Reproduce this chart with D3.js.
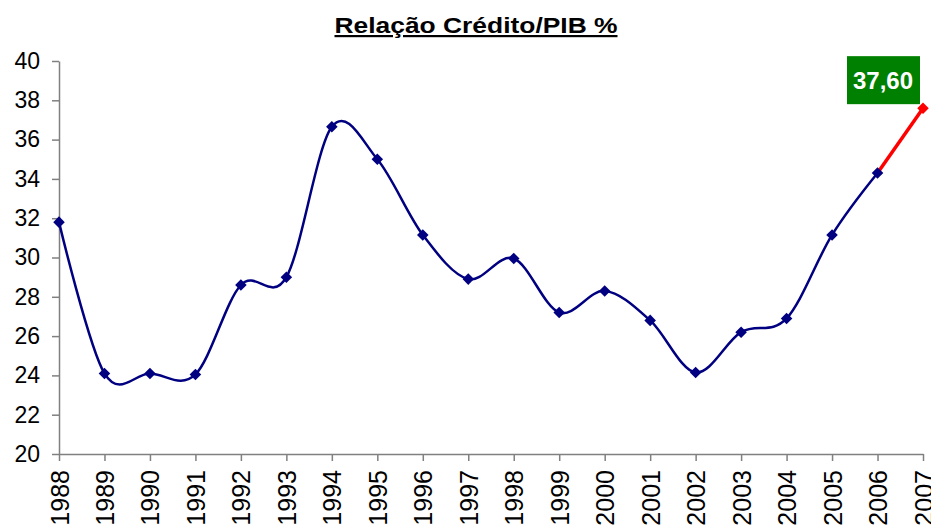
<!DOCTYPE html>
<html>
<head>
<meta charset="utf-8">
<script src="https://cdn.jsdelivr.net/npm/d3@7"></script>
<style>
  body { margin: 0; background: #fff; }
  svg { display: block; font-family: Arial, "Liberation Sans", sans-serif; }
</style>
</head>
<body>
<svg id="chart" width="931" height="528"></svg>
<script>
// dados
const years = ["1988", "1989", "1990", "1991", "1992", "1993", "1994", "1995", "1996", "1997",
               "1998", "1999", "2000", "2001", "2002", "2003", "2004", "2005", "2006", "2007"];
const creditoPib = [31.8, 24.1, 24.1, 24.05, 28.6, 29.0, 36.65, 35.0, 31.15, 28.9,
                    29.95, 27.2, 28.3, 26.8, 24.15, 26.2, 26.9, 31.15, 34.3, 37.6];
const yTicks = [20, 22, 24, 26, 28, 30, 32, 34, 36, 38, 40];
const titulo = "Relação Crédito/PIB %";

const svg = d3.select("#chart");

//Marge
const margin = { top: 61, left: 59, right: 8, bottom: 74 };
const width = 931, height = 528;

const scaleX = d3.scalePoint()
    .domain(years)
    .range([margin.left, width - margin.right]);

const scaleY = d3.scaleLinear()
    .domain([20, 40])
    .range([height - margin.bottom, margin.top]);

//Titre
svg.append("text")
    .attr("x", 476)
    .attr("y", 33)
    .attr("text-anchor", "middle")
    .attr("font-size", 22)
    .attr("font-weight", "bold")
    .attr("textLength", 283)
    .attr("lengthAdjust", "spacingAndGlyphs")
    .style("text-decoration", "underline")
    .text(titulo);

//Axe Y
const yAxis = svg.append("g")
    .attr("transform", `translate(${margin.left},0)`)
    .call(d3.axisLeft(scaleY).tickValues(yTicks).tickSize(7).tickPadding(12).tickSizeOuter(0));
yAxis.select(".domain").attr("stroke", "#808080").attr("stroke-width", 1.5);
yAxis.selectAll(".tick line").attr("stroke", "#808080").attr("stroke-width", 1.5);
yAxis.selectAll(".tick text")
    .attr("font-size", 23)
    .attr("fill", "#000")
    .attr("font-family", "Arial, 'Liberation Sans', sans-serif");

//Axe X
const xAxis = svg.append("g")
    .attr("transform", `translate(0,${scaleY(20)})`)
    .call(d3.axisBottom(scaleX).tickSize(7).tickSizeOuter(0));
xAxis.select(".domain").attr("stroke", "#808080").attr("stroke-width", 1.5);
xAxis.selectAll(".tick line").attr("stroke", "#808080").attr("stroke-width", 1.5);
xAxis.selectAll(".tick text")
    .attr("font-size", 25)
    .attr("fill", "#000")
    .attr("font-family", "Arial, 'Liberation Sans', sans-serif")
    .attr("text-anchor", "end")
    .attr("transform", "rotate(-90)")
    .attr("x", -16)
    .attr("y", 0)
    .attr("dy", "0.36em");

// série principal (até 2006), suavizada
const mainData = years.slice(0, 19).map((y, i) => ({ year: y, v: creditoPib[i] }));
const lastData = years.slice(18).map((y, i) => ({ year: y, v: creditoPib[18 + i] }));

const smoothLine = d3.line()
    .curve(d3.curveCatmullRom.alpha(0))
    .x(d => scaleX(d.year))
    .y(d => scaleY(d.v));

const straightLine = d3.line()
    .x(d => scaleX(d.year))
    .y(d => scaleY(d.v));

svg.append("path")
    .datum(mainData)
    .attr("fill", "none")
    .attr("stroke", "#000080")
    .attr("stroke-width", 2.5)
    .attr("d", smoothLine);

svg.append("path")
    .datum(lastData)
    .attr("fill", "none")
    .attr("stroke", "#ff0000")
    .attr("stroke-width", 3.5)
    .attr("d", straightLine);

const diamond = d3.symbol().type(d3.symbolDiamond2).size(85);

svg.selectAll(".marker")
    .data(mainData)
    .enter()
    .append("path")
    .attr("class", "marker")
    .attr("transform", d => `translate(${scaleX(d.year)},${scaleY(d.v)})`)
    .attr("fill", "#000080")
    .attr("d", diamond);

svg.selectAll(".marker-last")
    .data(lastData.slice(1))
    .enter()
    .append("path")
    .attr("class", "marker-last")
    .attr("transform", d => `translate(${scaleX(d.year)},${scaleY(d.v)})`)
    .attr("fill", "#ff0000")
    .attr("d", diamond);

// étiquette de la dernière valeur
const last = lastData[lastData.length - 1];
const labelG = svg.append("g")
    .attr("transform", `translate(${scaleX(last.year) - 40},${scaleY(last.v) - 28})`);
labelG.append("rect")
    .attr("x", -36)
    .attr("y", -24)
    .attr("width", 73)
    .attr("height", 48)
    .attr("fill", "#008000");
labelG.append("text")
    .attr("text-anchor", "middle")
    .attr("dy", "0.36em")
    .attr("font-size", 24)
    .attr("font-weight", "bold")
    .attr("fill", "#fff")
    .text(d3.format(".2f")(last.v).replace(".", ","));
</script>
</body>
</html>
